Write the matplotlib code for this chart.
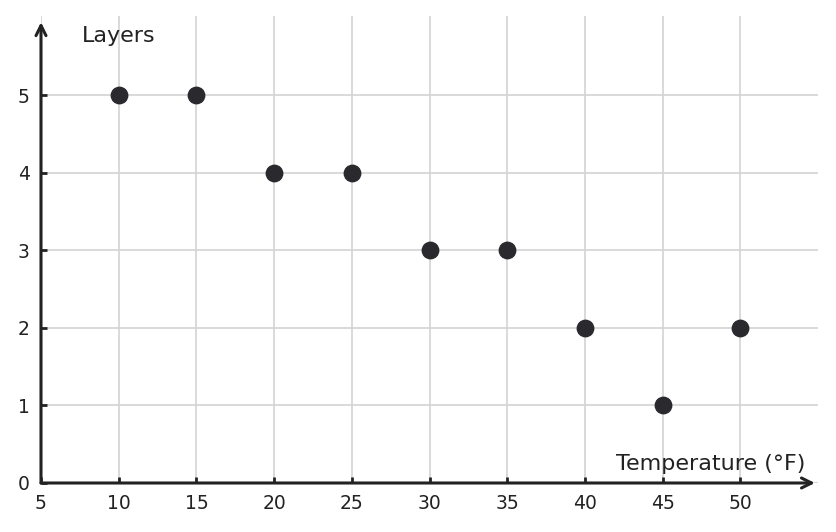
import matplotlib
matplotlib.use("Agg")
import matplotlib.pyplot as plt

temps = [10, 15, 20, 25, 30, 35, 40, 45, 50]
layers = [5, 5, 4, 4, 3, 3, 2, 1, 2]
xticks = [5, 10, 15, 20, 25, 30, 35, 40, 45, 50]
yticks = [0, 1, 2, 3, 4, 5]

plt.rcParams['font.family'] = ['DejaVu Sans']
fig = plt.figure(figsize=(8.36, 5.32), dpi=100)
ax = fig.add_axes([41/836, (532-483)/532, (818-41)/836, (483-16)/532])
ax.set_xlim(5, 55)
ax.set_ylim(0, 6.02)
for s in ax.spines.values():
    s.set_visible(False)
ax.set_xticks(xticks)
ax.set_yticks(yticks)
ax.grid(True, color="#d3d3d3", linewidth=1.2)
ax.set_axisbelow(True)
ax.tick_params(direction="in", length=4, width=2, color="#222222", labelcolor="#222222", labelsize=13.5, pad=8)
ax.scatter(temps, layers, s=140, color="#2a2a2e", zorder=3, clip_on=False)

ax.annotate("", xy=(54.8, 0), xytext=(5, 0), xycoords="data",
            arrowprops=dict(arrowstyle="->", color="#222222", lw=2.2, mutation_scale=18, shrinkA=0, shrinkB=0),
            annotation_clip=False)
ax.annotate("", xy=(5, 5.94), xytext=(5, 0), xycoords="data",
            arrowprops=dict(arrowstyle="->", color="#222222", lw=2.2, mutation_scale=18, shrinkA=0, shrinkB=0),
            annotation_clip=False)

ax.text(7.6, 5.76, "Layers", fontsize=16, color="#222222", va="center", ha="left")
ax.text(54.2, 0.25, "Temperature (°F)", fontsize=16, color="#222222", va="center", ha="right")

fig.savefig("out.png", dpi=100)
